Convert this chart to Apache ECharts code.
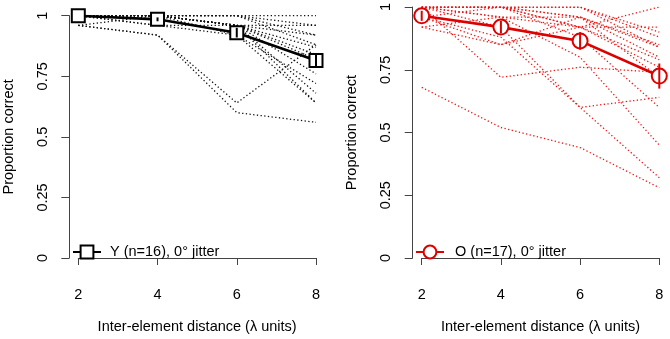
<!DOCTYPE html>
<html>
<head>
<meta charset="utf-8">
<script src="https://cdn.jsdelivr.net/npm/echarts@6/dist/echarts.min.js"></script>
<style>html,body{margin:0;padding:0;background:#fff}#c{width:670px;height:339px}</style>
</head>
<body>
<div id="c"></div>
<script>
const distances = [2, 4, 6, 8];
const xTicks = [2, 4, 6, 8];
const yTicks = [0, 0.25, 0.5, 0.75, 1];

const youngName = 'Y (n=16), 0° jitter';
const oldName = 'O (n=17), 0° jitter';

const youngMean = [1.0, 0.985, 0.93, 0.815];
const youngErr = [0.0, 0.008, 0.02, 0.026];
const oldMean = [0.965, 0.92, 0.865, 0.725];
const oldErr = [0.02, 0.025, 0.035, 0.05];

const youngSubjects = [
  [1.00, 1.00, 1.00, 1.00],
  [1.00, 1.00, 1.00, 0.96],
  [1.00, 1.00, 0.96, 0.96],
  [1.00, 1.00, 1.00, 0.88],
  [1.00, 1.00, 0.96, 0.87],
  [1.00, 1.00, 0.96, 0.82],
  [1.00, 1.00, 0.96, 0.76],
  [1.00, 0.96, 0.92, 0.72],
  [1.00, 1.00, 0.96, 0.68],
  [1.00, 0.96, 0.96, 0.64],
  [0.96, 0.92, 0.64, 0.88],
  [0.96, 0.92, 0.60, 0.56],
  [1.00, 1.00, 0.96, 0.92],
  [1.00, 1.00, 1.00, 0.92],
  [1.00, 1.00, 0.96, 0.84],
  [0.96, 1.00, 0.92, 0.64]
];

const oldSubjects = [
  [0.68, 0.52, 0.44, 0.28],
  [1.00, 0.72, 0.76, 0.74],
  [1.00, 0.92, 0.60, 0.64],
  [0.96, 0.88, 0.60, 0.32],
  [1.00, 0.96, 0.80, 0.45],
  [1.00, 1.00, 0.92, 1.00],
  [0.96, 0.85, 0.92, 0.92],
  [1.00, 1.00, 1.00, 0.90],
  [1.00, 1.00, 1.00, 0.88],
  [0.92, 0.85, 0.96, 0.85],
  [1.00, 1.00, 0.96, 0.84],
  [1.00, 1.00, 0.96, 0.80],
  [0.96, 1.00, 0.92, 0.76],
  [1.00, 0.96, 0.96, 0.72],
  [1.00, 1.00, 1.00, 0.84],
  [0.92, 0.96, 0.92, 0.79],
  [1.00, 1.00, 0.88, 0.60]
];

const FONT = "'Liberation Sans', Arial, Helvetica, sans-serif";
const FS = 14.5;
const AX = '#444';
const BLACK = '#000000';
const RED = '#dd0000';
const RED_LIGHT = 'rgba(240,20,20,1)';

function pairs(vals) { return distances.map((d, i) => [d, vals[i]]); }

function xAxisDef(gridIndex) {
  return {
    type: 'value', gridIndex: gridIndex,
    min: xTicks[0], max: xTicks[xTicks.length - 1], interval: xTicks[1] - xTicks[0],
    offset: 10,
    name: 'Inter-element distance (λ units)', nameLocation: 'middle', nameGap: 51,
    nameTextStyle: { fontFamily: FONT, fontSize: FS, color: '#000' },
    axisLine: { show: true, lineStyle: { color: AX, width: 1 } },
    axisTick: { show: true, length: 7, lineStyle: { color: AX } },
    axisLabel: { fontFamily: FONT, fontSize: FS, color: '#000', margin: 19 },
    splitLine: { show: false }
  };
}
function yAxisDef(gridIndex) {
  return {
    type: 'value', gridIndex: gridIndex,
    min: yTicks[0], max: yTicks[yTicks.length - 1], interval: yTicks[1] - yTicks[0],
    offset: 9,
    name: 'Proportion correct', nameLocation: 'middle', nameGap: 53,
    nameTextStyle: { fontFamily: FONT, fontSize: FS, color: '#000' },
    axisLine: { show: true, lineStyle: { color: AX, width: 1 } },
    axisTick: { show: true, length: 8, lineStyle: { color: AX } },
    axisLabel: { fontFamily: FONT, fontSize: FS, color: '#000', margin: 19, rotate: 90 },
    splitLine: { show: false }
  };
}

function subjectSeries(subjects, idx, color) {
  return subjects.map(s => ({
    type: 'line', xAxisIndex: idx, yAxisIndex: idx,
    data: pairs(s), symbol: 'none', silent: true, z: 1,
    lineStyle: { color: color, width: 1.3, type: [1.3, 2.4] }
  }));
}

function errSeries(mean, err, idx, color) {
  return {
    type: 'custom', xAxisIndex: idx, yAxisIndex: idx, z: 5, silent: true,
    data: distances.map((d, i) => [d, mean[i] - err[i], mean[i] + err[i]]),
    encode: { x: 0, y: [1, 2] },
    renderItem: function (params, api) {
      const a = api.coord([api.value(0), api.value(1)]);
      const b = api.coord([api.value(0), api.value(2)]);
      return { type: 'line', shape: { x1: a[0], y1: a[1], x2: b[0], y2: b[1] },
               style: { stroke: color, lineWidth: 2 } };
    }
  };
}

const option = {
  animation: false,
  backgroundColor: '#ffffff',
  grid: [
    { left: 78.3, top: 15.7, width: 237.7, height: 243.6 },
    { left: 421.7, top: 4.3, width: 237.6, height: 255 }
  ],
  xAxis: [xAxisDef(0), xAxisDef(1)],
  yAxis: [yAxisDef(0), yAxisDef(1)],
  legend: [
    { data: [youngName], left: 72, top: 244.5, itemWidth: 28, itemHeight: 16, padding: 0,
      textStyle: { fontFamily: FONT, fontSize: FS, color: '#000', padding: [0, 0, 0, 4] } },
    { data: [oldName], left: 415, top: 244.5, itemWidth: 28, itemHeight: 16, padding: 0,
      textStyle: { fontFamily: FONT, fontSize: FS, color: '#000', padding: [0, 0, 0, 6] } }
  ],
  series: [].concat(
    subjectSeries(youngSubjects, 0, '#111111'),
    subjectSeries(oldSubjects, 1, RED_LIGHT),
    [
      { name: youngName, type: 'line', xAxisIndex: 0, yAxisIndex: 0, z: 3,
        data: pairs(youngMean), symbol: 'rect', symbolSize: 13,
        itemStyle: { color: '#ffffff', borderColor: BLACK, borderWidth: 2 },
        lineStyle: { color: BLACK, width: 2.6 } },
      { name: oldName, type: 'line', xAxisIndex: 1, yAxisIndex: 1, z: 3,
        data: pairs(oldMean), symbol: 'circle', symbolSize: 15,
        itemStyle: { color: '#ffffff', borderColor: RED, borderWidth: 2 },
        lineStyle: { color: RED, width: 2.6 } },
      errSeries(youngMean, youngErr, 0, BLACK),
      errSeries(oldMean, oldErr, 1, RED)
    ]
  )
};

const chart = echarts.init(document.getElementById('c'), null, { renderer: 'canvas' });
chart.setOption(option);
</script>
</body>
</html>
